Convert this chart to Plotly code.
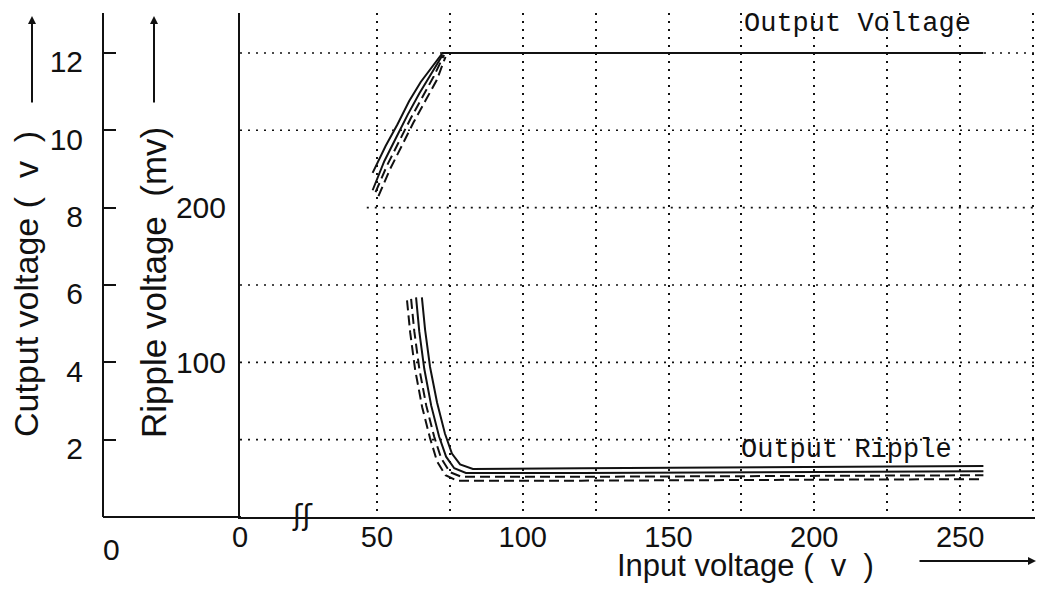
import plotly.graph_objects as go

# ---------------- data ----------------
input_tick_vals = [50, 100, 150, 200, 250]
input_tick_text = ["50", "100", "150", "200", "250"]
input_grid = [50, 75, 100, 125, 150, 175, 200, 225, 250, 275]
output_ticks = [2, 4, 6, 8, 10, 12]
output_grid = [2, 4, 6, 10, 12]
output_grid_partial = [8]
ripple_ticks = [100, 200]

# Output voltage (V) vs input voltage (V)
ov_solid_a_x = [48.5, 53.0, 57.0, 61.0, 65.0, 69.0, 72.5, 150.0, 258.0]
ov_solid_a_y = [8.9, 9.6, 10.15, 10.75, 11.25, 11.65, 12.0, 12.0, 12.0]
ov_solid_b_x = [48.5, 52.5, 56.5, 60.5, 64.5, 68.5, 72.5]
ov_solid_b_y = [8.45, 9.2, 9.8, 10.4, 10.95, 11.45, 11.95]
ov_dash_a_x = [49.5, 53.5, 57.5, 61.5, 65.5, 69.5, 73.0]
ov_dash_a_y = [8.4, 9.1, 9.7, 10.3, 10.85, 11.4, 11.95]
ov_dash_b_x = [50.5, 54.5, 58.5, 62.5, 66.5, 70.5, 73.5]
ov_dash_b_y = [8.3, 9.0, 9.6, 10.2, 10.75, 11.3, 11.9]

# Ripple voltage (mV) vs input voltage (V)
rp_solid_a_x = [65.4, 66.5, 68.2, 70.6, 73.3, 75.7, 78.5, 82.9, 120.0, 180.0, 258.0]
rp_solid_a_y = [142.0, 121.0, 97.0, 74.0, 54.0, 41.0, 34.0, 31.0, 31.5, 32.0, 33.0]
rp_solid_b_x = [63.4, 64.5, 66.2, 68.6, 71.3, 73.7, 76.5, 80.5, 120.0, 180.0, 258.0]
rp_solid_b_y = [142.0, 120.0, 96.0, 72.0, 52.0, 39.0, 31.5, 28.5, 28.5, 29.0, 29.5]
rp_dash_a_x = [61.7, 62.8, 64.5, 66.9, 69.6, 72.0, 75.0, 79.0, 120.0, 180.0, 258.0]
rp_dash_a_y = [141.0, 120.0, 96.0, 72.0, 52.0, 38.0, 29.0, 26.0, 26.0, 26.5, 27.0]
rp_dash_b_x = [60.3, 61.4, 63.1, 65.5, 68.2, 70.6, 73.5, 77.5, 120.0, 180.0, 258.0]
rp_dash_b_y = [140.0, 119.0, 95.0, 71.0, 51.0, 36.0, 27.0, 23.5, 23.5, 24.0, 24.5]

# ---------------- layout geometry ----------------
W, H = 1047, 593
OFF = 8  # page body margin
ML, MR, MT, MB = 95, 20, 5, 84
PW = W - ML - MR
PH = H - MT - MB


def px_x(p):
    return (p - OFF - ML) / PW


def px_y(p):
    return (H - MB - (p - OFF)) / PH


X_RANGE = [3.01, 275.7]
Y_RANGE = [0, 13.034]
Y2_RANGE = [0, 13.034 * 25]

BLACK = "#111111"
TICKF = "Liberation Sans, Arial, sans-serif"
SANS = "Liberation Sans, Arial, sans-serif"
MONO = "Liberation Mono, Courier New, monospace"

fig = go.Figure()

solid = dict(color=BLACK, width=2)
dashed = dict(color=BLACK, width=2, dash="10px,5px")

fig.add_trace(go.Scatter(x=ov_solid_a_x, y=ov_solid_a_y, mode="lines", line=solid, yaxis="y"))
fig.add_trace(go.Scatter(x=ov_solid_b_x, y=ov_solid_b_y, mode="lines", line=solid, yaxis="y"))
fig.add_trace(go.Scatter(x=ov_dash_a_x, y=ov_dash_a_y, mode="lines", line=dashed, yaxis="y"))
fig.add_trace(go.Scatter(x=ov_dash_b_x, y=ov_dash_b_y, mode="lines", line=dashed, yaxis="y"))

fig.add_trace(go.Scatter(x=rp_solid_a_x, y=rp_solid_a_y, mode="lines", line=solid, yaxis="y2"))
fig.add_trace(go.Scatter(x=rp_solid_b_x, y=rp_solid_b_y, mode="lines", line=solid, yaxis="y2"))
fig.add_trace(go.Scatter(x=rp_dash_a_x, y=rp_dash_a_y, mode="lines", line=dashed, yaxis="y2"))
fig.add_trace(go.Scatter(x=rp_dash_b_x, y=rp_dash_b_y, mode="lines", line=dashed, yaxis="y2"))

shapes = []
dot = dict(color=BLACK, width=1.6, dash="2px,6px")
for g in output_grid:
    shapes.append(dict(type="line", xref="x", yref="y", x0=X_RANGE[0], x1=X_RANGE[1],
                       y0=g, y1=g, line=dot, layer="below"))
for g in output_grid_partial:
    shapes.append(dict(type="line", xref="x", yref="y", x0=46.5, x1=X_RANGE[1],
                       y0=g, y1=g, line=dot, layer="below"))
# baseline continuing left to the outer axis
shapes.append(dict(type="line", xref="paper", yref="paper", x0=0, x1=px_x(241),
                   y0=0, y1=0, line=dict(color=BLACK, width=2)))

fig.update_layout(shapes=shapes)

tickvals = [X_RANGE[0]] + input_grid
ticktext = ["0"] + [input_tick_text[input_tick_vals.index(v)] if v in input_tick_vals else "" for v in input_grid]

fig.update_layout(
    width=W, height=H,
    margin=dict(l=ML, r=MR, t=MT, b=MB),
    paper_bgcolor="white", plot_bgcolor="white",
    showlegend=False,
    xaxis=dict(
        domain=[px_x(240), 1], range=X_RANGE, showline=True, linecolor=BLACK, linewidth=2,
        tickvals=tickvals, ticktext=ticktext, ticks="",
        showgrid=True, gridcolor=BLACK, gridwidth=1.6, griddash="2px,6px",
        zeroline=False, tickfont=dict(family=TICKF, size=29, color=BLACK),
        ticklabelstandoff=-7,
    ),
    yaxis=dict(
        anchor="free", position=0, side="left", range=Y_RANGE,
        showline=True, linecolor=BLACK, linewidth=2,
        tickvals=output_ticks, ticks="inside", ticklen=12, tickwidth=2, tickcolor=BLACK,
        showgrid=False, zeroline=False,
        tickfont=dict(family=TICKF, size=30, color=BLACK),
        ticklabelshift=9, ticklabelstandoff=13,
    ),
    yaxis2=dict(
        overlaying="y", anchor="x", side="left", range=Y2_RANGE,
        showline=True, linecolor=BLACK, linewidth=2,
        tickvals=ripple_ticks, ticks="", showgrid=False, zeroline=False,
        tickfont=dict(family=TICKF, size=30, color=BLACK),
        ticklabelstandoff=6,
    ),
)

ann = []
ann.append(dict(xref="paper", yref="paper", x=px_x(111), y=px_y(549), text="0", showarrow=False,
                font=dict(family=TICKF, size=30, color=BLACK), xanchor="center", yanchor="middle"))
ann.append(dict(xref="paper", yref="paper", x=px_x(26), y=px_y(284),
                text="Cutput voltage ( \u00a0v\u00a0 )", textangle=-90, showarrow=False,
                font=dict(family=SANS, size=34, color=BLACK), xanchor="center", yanchor="middle"))
ann.append(dict(xref="paper", yref="paper", x=px_x(153), y=px_y(283),
                text="Ripple voltage \u00a0(mv)", textangle=-90, showarrow=False,
                font=dict(family=SANS, size=35, color=BLACK), xanchor="center", yanchor="middle"))
ann.append(dict(xref="paper", yref="paper", x=px_x(745), y=px_y(565),
                text="Input voltage ( \u00a0v\u00a0 )", showarrow=False,
                font=dict(family=SANS, size=31, color=BLACK), xanchor="center", yanchor="middle"))
# arrows
ann.append(dict(xref="paper", yref="paper", x=px_x(1036), y=px_y(561), ax=-118, ay=0,
                text="", showarrow=True, arrowhead=2, arrowsize=0.8, arrowwidth=2, arrowcolor=BLACK))
ann.append(dict(xref="paper", yref="paper", x=px_x(32), y=px_y(16), ax=0, ay=88,
                text="", showarrow=True, arrowhead=2, arrowsize=0.8, arrowwidth=2, arrowcolor=BLACK))
ann.append(dict(xref="paper", yref="paper", x=px_x(154), y=px_y(16), ax=0, ay=88,
                text="", showarrow=True, arrowhead=2, arrowsize=0.8, arrowwidth=2, arrowcolor=BLACK))
# series labels
ann.append(dict(xref="paper", yref="paper", x=px_x(857), y=px_y(24), text="Output Voltage",
                showarrow=False, font=dict(family=MONO, size=27, color=BLACK),
                xanchor="center", yanchor="middle"))
ann.append(dict(xref="paper", yref="paper", x=px_x(846), y=px_y(450), text="Output Ripple",
                showarrow=False, font=dict(family=MONO, size=27, color=BLACK),
                xanchor="center", yanchor="middle"))
# axis break mark
ann.append(dict(xref="paper", yref="paper", x=px_x(302), y=px_y(515), text="ʃʃ",
                showarrow=False, font=dict(family="DejaVu Sans", size=28, color=BLACK),
                xanchor="center", yanchor="middle"))

fig.update_layout(annotations=ann)

fig.write_html("out.html")
